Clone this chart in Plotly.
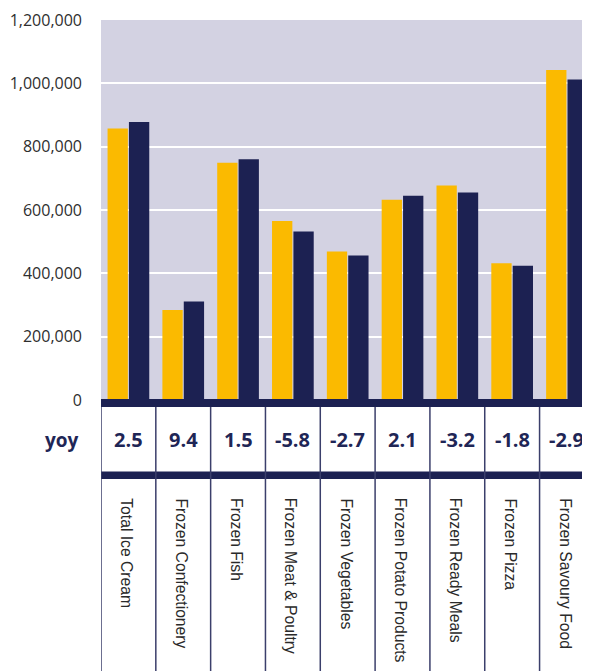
import plotly.graph_objects as go

categories = ["Total Ice Cream", "Frozen Confectionery", "Frozen Fish",
              "Frozen Meat & Poultry", "Frozen Vegetables", "Frozen Potato Products",
              "Frozen Ready Meals", "Frozen Pizza", "Frozen Savoury Food"]
prev_year = [857000, 284000, 749000, 565000, 469000, 632000, 677000, 432000, 1042000]
this_year = [878000, 311000, 760000, 532000, 456000, 645000, 655000, 424000, 1012000]
yoy = ["2.5", "9.4", "1.5", "-5.8", "-2.7", "2.1", "-3.2", "-1.8", "-2.9"]
y_ticks = [0, 200000, 400000, 600000, 800000, 1000000, 1200000]

GOLD = "#FBBA00"
NAVY = "#1C2152"
TEXT_NAVY = "#1F2656"
BG = "#D3D2E2"
LINE = "#3B3F6B"

OFF = 8  # page body margin
W, H = 590 - OFF, 671 - OFF
ML, MR, MT = 101 - OFF, 0, 20 - OFF
PLOT_BOTTOM = 400  # screen px
PH = PLOT_BOTTOM - 20
MB = H - MT - PH
PW = W - ML - MR


def py(pix):
    return (PLOT_BOTTOM - pix) / PH


fig = go.Figure()
x = list(range(len(categories)))
fig.add_trace(go.Bar(x=x, y=prev_year, marker=dict(color=GOLD, line=dict(width=0)), showlegend=False))
fig.add_trace(go.Bar(x=x, y=this_year, marker=dict(color=NAVY, line=dict(width=0)), showlegend=False))

shapes = []
shapes.append(dict(type="rect", xref="paper", yref="paper", x0=0, x1=1.05,
                   y0=py(399), y1=py(407), fillcolor=NAVY, line=dict(width=0), layer="above"))
shapes.append(dict(type="rect", xref="paper", yref="paper", x0=0, x1=1.05,
                   y0=py(471.5), y1=py(479), fillcolor=NAVY, line=dict(width=0), layer="above"))
for k in range(len(categories) + 1):
    shapes.append(dict(type="line", xref="x", yref="paper", x0=k - 0.5, x1=k - 0.5,
                       y0=py(407), y1=py(680), line=dict(color=LINE, width=1.5)))

annotations = []
annotations.append(dict(text="<b>yoy</b>", xref="paper", yref="paper",
                        x=(81 - 101) / PW, y=py(440), xanchor="right", yanchor="middle",
                        showarrow=False, font=dict(family="Open Sans", size=19, color=TEXT_NAVY)))
for i, v in enumerate(yoy):
    annotations.append(dict(text=f"<b>{v}</b>", xref="x", yref="paper", x=i, y=py(440),
                            xanchor="center", yanchor="middle", showarrow=False,
                            font=dict(family="Open Sans", size=20, color=TEXT_NAVY)))
for i, c in enumerate(categories):
    annotations.append(dict(text=c, xref="x", yref="paper", x=i - 0.03, y=py(496),
                            xanchor="center", yanchor="top", textangle=90, showarrow=False,
                            font=dict(family="Liberation Sans", size=15.7, color="#2A2A2A")))

fig.update_layout(
    width=W, height=H,
    margin=dict(l=ML, r=MR, t=MT, b=MB, pad=0),
    paper_bgcolor="white", plot_bgcolor=BG,
    barmode="group", bargap=0.22, bargroupgap=0.05,
    shapes=shapes, annotations=annotations,
    xaxis=dict(range=[-0.5, 8.42], showticklabels=False, showgrid=False, zeroline=False,
               showline=False, ticks=""),
    yaxis=dict(range=[0, 1200000], tickvals=y_ticks, tickformat=",", showgrid=True,
               gridcolor="white", gridwidth=1.5, zeroline=False, showline=False, ticks="",
               ticklabelstandoff=18,
               tickfont=dict(family="Open Sans", size=16, color="#2E2E2E")),
)

fig.write_html("out.html")
